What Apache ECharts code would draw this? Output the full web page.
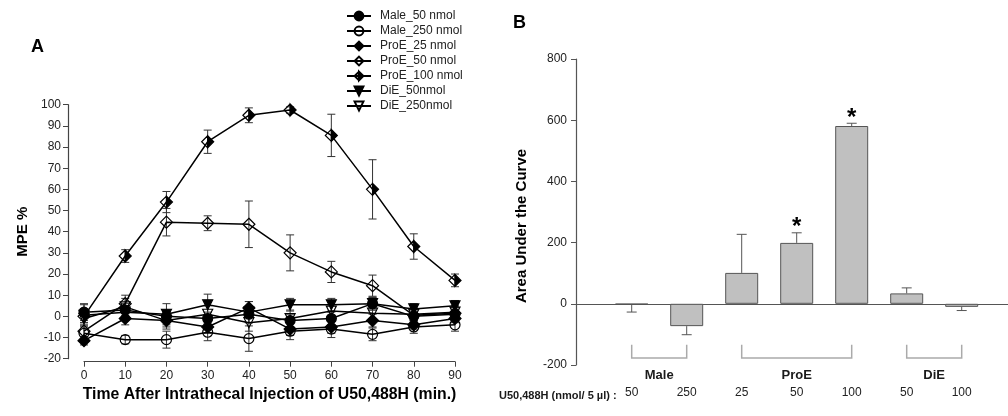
<!DOCTYPE html>
<html><head><meta charset="utf-8">
<script src="https://cdn.jsdelivr.net/npm/echarts@6/dist/echarts.min.js"></script>
<style>html,body{margin:0;padding:0;background:#fff}#c{width:1008px;height:416px}</style>
</head><body><div id="c"></div>
<script>
// ---------- Panel A data ----------
const times = [0, 10, 20, 30, 40, 50, 60, 70, 80, 90];
const male50     = [2, 3, 0, -1, 1, -2, -1, 6, 0, 1];
const male50Err  = [4, 3, 3, 3, 4, 3, 3, 3, 3, 3];
const male250    = [-8, -11, -11, -7.5, -10.5, -7, -6, -8.5, -5, -4];
const male250Err = [3, 2, 4, 4, 6, 4, 4, 3, 3, 3];
const proe25     = [-11.5, -1, -2, -5, 4, -6, -5, -2, -4, -1];
const proe25Err  = [2, 3, 3, 3, 3, 3, 3, 3, 2, 2];
const proe50     = [-7, 6, 44.5, 44, 43.5, 30, 21, 14.5, 0.5, 1.5];
const proe50Err  = [4, 4, 6.5, 3.5, 11, 8.5, 5, 5, 3, 3];
const proe100    = [0, 28.5, 54, 82.5, 95, 97.5, 85.5, 60, 33, 17];
const proe100Err = [3, 3, 5, 5.5, 3.5, 1.5, 10, 14, 6, 3];
const die50      = [0.5, 2, 1, 5.5, 2, 5.5, 5.5, 6, 3.5, 5];
const die50Err   = [5, 3, 5, 5, 5, 3, 3, 3, 2.5, 2.5];
const die250     = [-1, 4.5, -2, 1, -3, -1, 2.5, 1.5, 1, 2];
const die250Err  = [3, 4, 4, 4, 4, 4, 3, 4, 3, 3];
const seriesNames = ['Male_50 nmol', 'Male_250 nmol', 'ProE_25 nmol', 'ProE_50 nmol', 'ProE_100 nmol', 'DiE_50nmol', 'DiE_250nmol'];

// ---------- Panel B data ----------
const aucCategories = ['50', '250', '25', '50', '100', '50', '100'];
const aucValues = [-2, -73, 101, 199, 581, 34, -10];
const aucErr    = [25, 28, 126, 33, 9, 18, 12];
const aucSig    = ['', '', '', '*', '*', '', ''];
const groupNames = ['Male', 'ProE', 'DiE'];
const groupFirst = [0, 2, 5];
const groupLast  = [1, 4, 6];

// ---------- styles ----------
const FONT = 'Liberation Sans, Arial, sans-serif';
const INK = '#1a1a1a';
const AX = '#444';
const bracketStartPad = [0.11, -0.02, -0.13];
const bracketEndPad = [0.30, 0.12, 0.06];
const halfDiamond = 'path://M0,-10 L10,0 L0,10 Z M0,-10 L-10,0 L0,10 L-10,0 Z';
const invTri = 'path://M-10,-8 L10,-8 L0,10 Z';
const styles = [
  {symbol: 'circle', fill: '#000', size: 10},
  {symbol: 'circle', fill: 'rgba(255,255,255,0)', size: 10},
  {symbol: 'diamond', fill: '#000', size: 12},
  {symbol: 'diamond', fill: 'rgba(255,255,255,0)', size: 12},
  {symbol: halfDiamond, fill: '#000', size: 12},
  {symbol: invTri, fill: '#000', size: 10},
  {symbol: invTri, fill: 'rgba(255,255,255,0)', size: 10}
];
const values = [male50, male250, proe25, proe50, proe100, die50, die250];
const errs = [male50Err, male250Err, proe25Err, proe50Err, proe100Err, die50Err, die250Err];

function errBarA(params, api) {
  const x = api.value(0), y = api.value(1), e = api.value(2);
  const t = api.coord([x, y + e]), b = api.coord([x, y - e]);
  const w = 4, st = {stroke: '#333', lineWidth: 1};
  return {type: 'group', children: [
    {type: 'line', shape: {x1: t[0], y1: t[1], x2: b[0], y2: b[1]}, style: st},
    {type: 'line', shape: {x1: t[0] - w, y1: t[1], x2: t[0] + w, y2: t[1]}, style: st},
    {type: 'line', shape: {x1: b[0] - w, y1: b[1], x2: b[0] + w, y2: b[1]}, style: st}
  ]};
}
function errBarB(params, api) {
  const x = api.value(0), y = api.value(1), e = api.value(2);
  const sig = aucSig[params.dataIndex];
  const dir = y < 0 ? -1 : 1;
  const s = api.coord([x, y]), t = api.coord([x, y + dir * e]);
  const w = 5, st = {stroke: '#555', lineWidth: 1};
  const ch = [
    {type: 'line', shape: {x1: s[0], y1: s[1], x2: t[0], y2: t[1]}, style: st},
    {type: 'line', shape: {x1: t[0] - w, y1: t[1], x2: t[0] + w, y2: t[1]}, style: st}
  ];
  if (sig) ch.push({type: 'text', x: t[0], y: t[1] + 7, style: {text: sig, fill: '#000', font: 'bold 24px ' + FONT, align: 'center', verticalAlign: 'bottom'}});
  return {type: 'group', children: ch};
}
function bracketB(params, api) {
  const k = params.dataIndex;
  const a = api.value(0) + bracketStartPad[k], b = api.value(1) + bracketEndPad[k];
  const p1 = api.coord([a, -134]), p2 = api.coord([a, -177]), p3 = api.coord([b, -177]), p4 = api.coord([b, -134]);
  return {type: 'group', children: [
    {type: 'polyline', shape: {points: [p1, p2, p3, p4]}, style: {stroke: '#aaa', lineWidth: 1.5, fill: null}},
    {type: 'text', x: (p2[0] + p3[0]) / 2, y: p2[1] + 11, style: {text: groupNames[k], fill: INK, font: 'bold 13px ' + FONT, align: 'center', verticalAlign: 'top'}}
  ]};
}

const series = [];
values.forEach((vals, k) => {
  series.push({
    type: 'custom', xAxisIndex: 0, yAxisIndex: 0, renderItem: errBarA, z: 1,
    data: times.map((t, i) => [t, vals[i], errs[k][i]]), silent: true
  });
});
values.forEach((vals, k) => {
  const s = styles[k];
  series.push({
    name: seriesNames[k], type: 'line', xAxisIndex: 0, yAxisIndex: 0, z: 3,
    data: times.map((t, i) => [t, vals[i]]),
    symbol: s.symbol, symbolSize: s.size, showAllSymbol: true,
    lineStyle: {color: '#000', width: 1.5},
    itemStyle: {color: s.fill, borderColor: '#000', borderWidth: 1.2},
    emphasis: {disabled: true}, animation: false
  });
});
series.push({
  type: 'bar', xAxisIndex: 2, yAxisIndex: 2, data: aucValues, barWidth: 33,
  itemStyle: {color: '#c0c0c0', borderColor: '#555', borderWidth: 1}, animation: false
});
series.push({
  type: 'custom', xAxisIndex: 2, yAxisIndex: 2, renderItem: errBarB, z: 4,
  data: aucValues.map((v, i) => [i, v, aucErr[i]])
});
series.push({
  type: 'custom', xAxisIndex: 2, yAxisIndex: 2, renderItem: bracketB, z: 4,
  data: groupFirst.map((f, i) => [f, groupLast[i]])
});

const labelStyle = {color: '#222', fontSize: 12, fontFamily: FONT};
const option = {
  animation: false,
  textStyle: {fontFamily: FONT},
  title: [
    {text: 'A', left: 26, top: 33, textStyle: {fontSize: 18, fontWeight: 'bold', color: '#000', fontFamily: FONT}},
    {text: 'B', left: 508, top: 9, textStyle: {fontSize: 18, fontWeight: 'bold', color: '#000', fontFamily: FONT}},
    {text: 'U50,488H (nmol/ 5 µl) :', left: 494, top: 385, textStyle: {fontSize: 11, fontWeight: 'bold', color: INK, fontFamily: FONT}}
  ],
  legend: {
    orient: 'vertical', left: 341, top: 5, itemWidth: 24, itemHeight: 11, itemGap: 3,
    data: seriesNames, selectedMode: false,
    textStyle: {fontSize: 12, color: '#222', fontFamily: FONT, padding: [0, 0, 0, 4]}
  },
  grid: [
    {left: 84, top: 104.7, width: 371, height: 254},
    {left: 576, top: 59, width: 432, height: 306},
    {left: 604.2, top: 59, width: 385, height: 306}
  ],
  xAxis: [
    {type: 'value', gridIndex: 0, min: 0, max: 90, interval: 10, offset: 3,
     axisLine: {onZero: false, lineStyle: {color: AX, width: 1.2}},
     axisTick: {length: 5, lineStyle: {color: AX}}, splitLine: {show: false},
     axisLabel: Object.assign({margin: 8}, labelStyle),
     name: 'Time After Intrathecal Injection of U50,488H (min.)', nameLocation: 'middle', nameGap: 23,
     nameTextStyle: {fontSize: 15.8, fontWeight: 'bold', color: '#000', fontFamily: FONT}},
    {type: 'value', gridIndex: 1, min: 0, max: 1,
     axisLine: {onZero: true, lineStyle: {color: '#555', width: 1.2}},
     axisTick: {show: false}, axisLabel: {show: false}, splitLine: {show: false}},
    {type: 'category', gridIndex: 2, data: aucCategories, position: 'bottom',
     axisLine: {show: false, onZero: false}, axisTick: {show: false}, splitLine: {show: false},
     axisLabel: Object.assign({margin: 22}, labelStyle)}
  ],
  yAxis: [
    {type: 'value', gridIndex: 0, min: -20, max: 100, interval: 10, offset: 16,
     axisLine: {show: true, onZero: false, lineStyle: {color: AX, width: 1.2}},
     axisTick: {show: true, length: 5, lineStyle: {color: AX}}, splitLine: {show: false},
     axisLabel: Object.assign({margin: 7}, labelStyle),
     name: 'MPE %', nameLocation: 'middle', nameGap: 38,
     nameTextStyle: {fontSize: 15, fontWeight: 'bold', color: '#000', fontFamily: FONT}},
    {type: 'value', gridIndex: 1, min: -200, max: 800, interval: 200,
     axisLine: {show: true, onZero: false, lineStyle: {color: '#555', width: 1.2}},
     axisTick: {show: true, length: 5, lineStyle: {color: '#555'}}, splitLine: {show: false},
     axisLabel: Object.assign({margin: 9}, labelStyle),
     name: 'Area Under the Curve', nameLocation: 'middle', nameGap: 47,
     nameTextStyle: {fontSize: 15, fontWeight: 'bold', color: '#000', fontFamily: FONT, padding: [0, 28, 0, 0]}},
    {type: 'value', gridIndex: 2, min: -200, max: 800, interval: 200, show: false}
  ],
  series: series
};
const chart = echarts.init(document.getElementById('c'), null, {renderer: 'canvas'});
chart.setOption(option);
</script></body></html>
